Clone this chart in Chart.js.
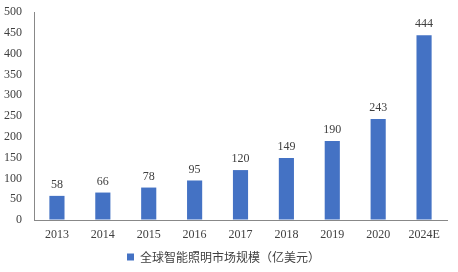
<!DOCTYPE html>
<html>
<head>
<meta charset="utf-8">
<script src="https://cdn.jsdelivr.net/npm/chart.js@4.4.0/dist/chart.umd.min.js"></script>
<style>
  html, body { margin: 0; padding: 0; background: #fff; }
  #wrap { width: 458px; height: 272px; position: relative; }
</style>
</head>
<body>
<div id="wrap"><canvas id="marketChart"></canvas></div>
<script>
const years = ['2013', '2014', '2015', '2016', '2017', '2018', '2019', '2020', '2024E'];
const marketSize = [58, 66, 78, 95, 120, 149, 190, 243, 444];
const yTicks = [0, 50, 100, 150, 200, 250, 300, 350, 400, 450, 500];

const serif = "'Liberation Serif', 'DejaVu Serif', serif";
const cjk = "'Noto Sans CJK SC', sans-serif";

// draws the value above each bar
const valueLabels = {
    id: 'valueLabels',
    afterDatasetsDraw(chart) {
        const ctx = chart.ctx;
        const meta = chart.getDatasetMeta(0);
        ctx.save();
        ctx.font = '12px ' + serif;
        ctx.fillStyle = '#404040';
        ctx.textAlign = 'center';
        ctx.textBaseline = 'bottom';
        meta.data.forEach((bar, i) => {
            ctx.fillText(marketSize[i], bar.x, bar.y - 5);
        });
        ctx.restore();
    }
};

const ctx = document.getElementById('marketChart').getContext('2d');

new Chart(ctx, {
    type: 'bar',
    data: {
        labels: years,
        datasets: [{
            label: '全球智能照明市场规模（亿美元）',
            data: marketSize,
            backgroundColor: '#4472C4',
            borderWidth: 0,
            categoryPercentage: 1.0,
            barPercentage: 0.33
        }]
    },
    options: {
        responsive: true,
        maintainAspectRatio: false,
        animation: false,
        layout: { padding: { left: 0, right: 11, top: 12, bottom: -1 } },
        plugins: {
            legend: {
                position: 'bottom',
                labels: {
                    boxWidth: 7,
                    boxHeight: 7,
                    padding: 1,
                    color: '#404040',
                    font: { family: cjk, size: 12, lineHeight: 1.1 }
                }
            },
            tooltip: { enabled: false }
        },
        scales: {
            x: {
                grid: { display: false, drawTicks: false },
                border: { display: true, color: '#888888', width: 1 },
                ticks: {
                    color: '#404040',
                    padding: 9,
                    maxRotation: 0,
                    font: { family: serif, size: 12, lineHeight: 1.0 }
                }
            },
            y: {
                min: 0,
                max: 500,
                afterBuildTicks: function(axis) {
                    axis.ticks = yTicks.map(v => ({ value: v }));
                },
                afterFit: function(axis) { axis.width = 34; },
                grid: {
                    display: true,
                    drawOnChartArea: false,
                    drawTicks: true,
                    tickLength: 9,
                    color: 'rgba(0,0,0,0)'
                },
                border: { display: true, color: '#888888', width: 1 },
                ticks: {
                    color: '#404040',
                    padding: 3,
                    font: { family: serif, size: 12 }
                }
            }
        }
    },
    plugins: [valueLabels]
});
</script>
</body>
</html>
